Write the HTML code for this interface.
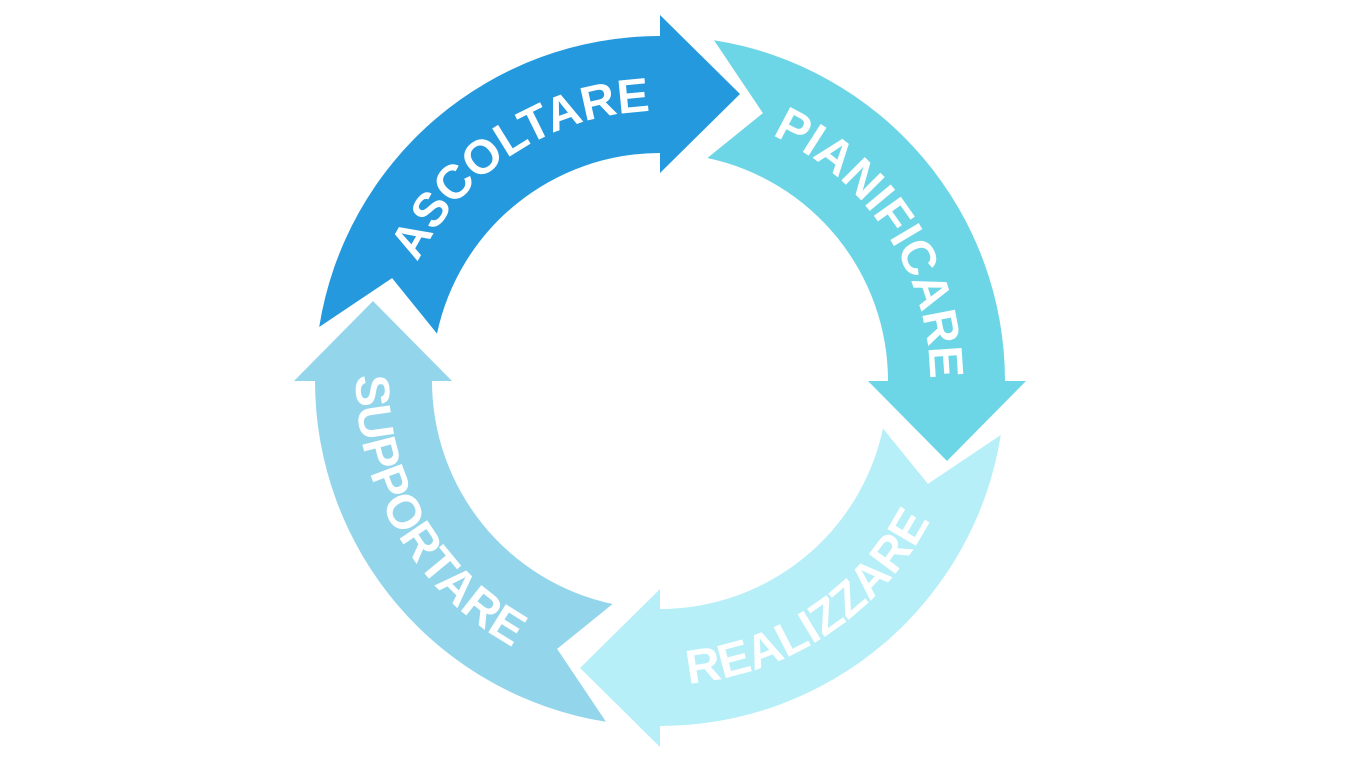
<!DOCTYPE html>
<html><head><meta charset="utf-8"><style>
html,body{margin:0;padding:0;background:#fff;width:1366px;height:768px;overflow:hidden}
text{font-family:"Liberation Sans",sans-serif;font-weight:bold;fill:#fff;font-size:48px}
</style></head><body>
<svg id="s" width="1366" height="768" viewBox="0 0 1366 768">
<path id="a1" fill="#2599dd"/><path id="a2" fill="#6dd6e6"/><path id="a3" fill="#b6eff8"/><path id="a4" fill="#93d6ec"/>
<path id="t1" fill="none"/><path id="t2" fill="none"/><path id="t3" fill="none"/><path id="t4" fill="none"/>
<text><textPath href="#t1" startOffset="50%" text-anchor="middle">ASCOLTARE</textPath></text>
<text><textPath href="#t2" startOffset="50%" text-anchor="middle">PIANIFICARE</textPath></text>
<text><textPath href="#t3" startOffset="50%" text-anchor="middle">REALIZZARE</textPath></text>
<text><textPath href="#t4" startOffset="50%" text-anchor="middle">SUPPORTARE</textPath></text>
</svg>
<script>
var cx=660,cy=381,R=345,r=228,m=287,hw=79,hl=80;
function P(rad,th){var t=th*Math.PI/180;return [cx+rad*Math.sin(t),cy-rad*Math.cos(t)];}
function f(p){return p[0].toFixed(1)+" "+p[1].toFixed(1);}
function seg(h){var s=h-90;
 var t=h*Math.PI/180;var mid=P(m,h);var tip=[mid[0]+hl*Math.cos(t),mid[1]+hl*Math.sin(t)];
 return "M"+f(P(R,s+9))+" A"+R+" "+R+" 0 0 1 "+f(P(R,h))+" L"+f(P(m+hw,h))+" L"+f(tip)+" L"+f(P(m-hw,h))+" L"+f(P(r,h))+" A"+r+" "+r+" 0 0 0 "+f(P(r,s+12))+" L"+f(P(m,s+21))+"Z";}
[0,90,180,270].forEach(function(h,i){document.getElementById("a"+(i+1)).setAttribute("d",seg(h));});
function cw(rad,c){return "M"+f(P(rad,c-60))+" A"+rad+" "+rad+" 0 0 1 "+f(P(rad,c+60));}
function ccw(rad,c){return "M"+f(P(rad,c+60))+" A"+rad+" "+rad+" 0 0 0 "+f(P(rad,c-60));}
document.getElementById("t1").setAttribute("d",cw(m-17,327));
document.getElementById("t2").setAttribute("d",cw(m-17,57));
document.getElementById("t3").setAttribute("d",ccw(m+17,146));
document.getElementById("t4").setAttribute("d",ccw(m+17,240));
</script>
</body></html>
